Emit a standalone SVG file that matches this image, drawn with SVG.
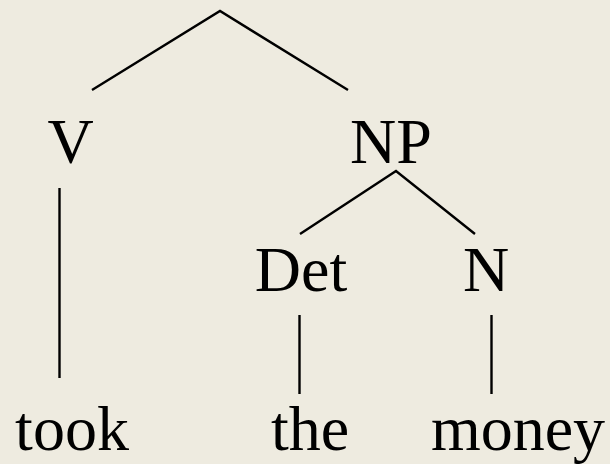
<svg xmlns="http://www.w3.org/2000/svg" width="610" height="464" viewBox="0 0 610 464">
<style>
.t{font-family:"Liberation Serif","Times New Roman",serif;font-size:64px;fill:#000;text-anchor:middle}
.e{stroke:#000;stroke-width:2.4;fill:none}
</style>
<rect width="610" height="464" fill="#EEEBE0"/>
<g id="connectors">
<polyline class="e" points="92,90 220,11 348,90"/>
<polyline class="e" points="300,234 396,171 475,234"/>
<line class="e" x1="59.5" y1="188" x2="59.5" y2="378"/>
<line class="e" x1="299.5" y1="315" x2="299.5" y2="394"/>
<line class="e" x1="491.5" y1="315" x2="491.5" y2="394"/>
</g>
<g id="V"><text class="t" x="70.5" y="163">V</text></g>
<g id="NP"><text class="t" x="391" y="163">NP</text></g>
<g id="Det"><text class="t" x="301" y="291">Det</text></g>
<g id="N"><text class="t" x="486" y="291">N</text></g>
<g id="took"><text class="t" x="72" y="450">took</text></g>
<g id="the"><text class="t" x="310" y="450">the</text></g>
<g id="money"><text class="t" x="518" y="450">money</text></g>
</svg>
